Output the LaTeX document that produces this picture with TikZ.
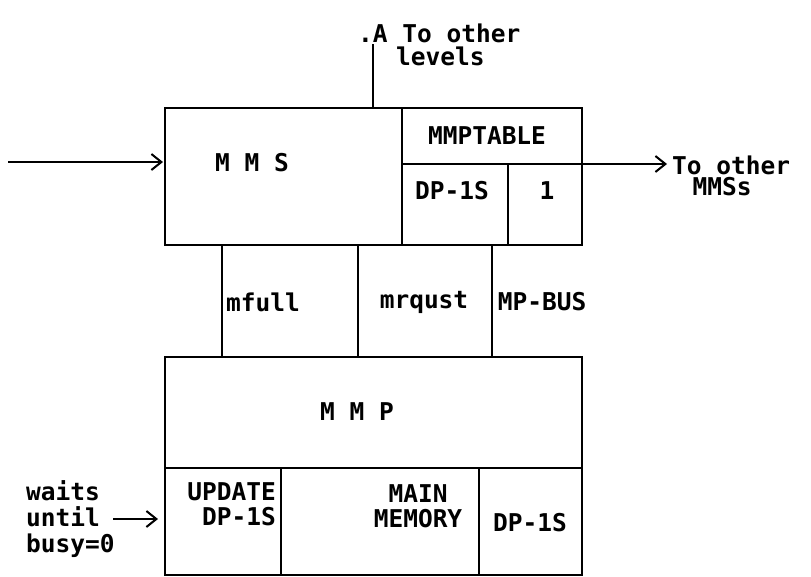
\documentclass[tikz,border=0pt]{standalone}
\usepackage{fontspec}
\setmonofont{DejaVu Sans Mono}
\usetikzlibrary{arrows.meta}
\begin{document}
\begin{tikzpicture}[x=1pt,y=-1pt,
  every node/.style={font=\ttfamily\bfseries\fontsize{24.5}{25}\selectfont, inner sep=0pt},
  wire/.style={line width=2pt},
  arr/.style={line width=2pt, -{Straight Barb[length=10pt,width=16pt,line width=2pt]}}]
\useasboundingbox (0,0) rectangle (811,576);
% boxes
\draw[wire] (165,108) rectangle (402,245) node[pos=0.5] (mms) {};
\draw[wire] (402,108) rectangle (582,164) node[pos=0.5] (tab) {};
\draw[wire] (402,164) rectangle (508,245) node[pos=0.5] (dpa) {};
\draw[wire] (508,164) rectangle (582,245) node[pos=0.5] (one) {};
\draw[wire] (165,357) rectangle (582,468) node[pos=0.5] (mmp) {};
\draw[wire] (165,468) rectangle (281,575) node[pos=0.5] (upd) {};
\draw[wire] (281,468) rectangle (479,575) node[pos=0.5] (mem) {};
\draw[wire] (479,468) rectangle (582,575) node[pos=0.5] (dpb) {};
% middle strip lines
\coordinate (s1t) at (222,245); \coordinate (s1b) at (222,357);
\coordinate (s2t) at (358,245); \coordinate (s2b) at (358,357);
\coordinate (s3t) at (492,245); \coordinate (s3b) at (492,357);
\draw[wire] (s1t) -- (s1b);
\draw[wire] (s2t) -- (s2b);
\draw[wire] (s3t) -- (s3b);
% texts
\node (tmms) at (252,163) {M M S};
\node (ttab) at (487,136) {MMPTABLE};
\node (tdpa) at (452,191) {DP-1S};
\node (tone) at (547,191) {1};
\node (tmf) at (263,302) {mfull};
\node (tmr) at (424,302) {mrqust};
\node (tmp) at (542,302) {MP-BUS};
\node (tmmp) at (357,412) {M M P};
\node[align=right, anchor=north east] (tupd) at (276,482) {UPDATE\\DP-1S};
\node[align=center] (tmem) at (418,506) {MAIN\\MEMORY};
\node (tdpb) at (530,523) {DP-1S};
\node[align=left, anchor=north west] (twait) at (26,480) {waits\\[1pt]until\\[1pt]busy=0};
% top line and label
\coordinate (top) at (373,44);
\coordinate (topb) at (373,108);
\draw[wire] (topb) -- (top);
\node[anchor=west] (tA) at (358,33) {.A To other};
\node[anchor=west] (tlev) at (396,56) {levels};
% arrows
\coordinate (inL) at (8,162);
\coordinate (inR) at (163,162);
\draw[arr] (inL) -- (inR);
\coordinate (outL) at (582,164);
\coordinate (outR) at (667,164);
\draw[arr] (outL) -- (outR);
\node[anchor=west] (tmo) at (672,165) {To other};
\node (tmss) at (722,187) {MMSs};
\coordinate (wA) at (113,519);
\coordinate (wB) at (158,519);
\draw[arr] (wA) -- (wB);
\end{tikzpicture}
\end{document}
